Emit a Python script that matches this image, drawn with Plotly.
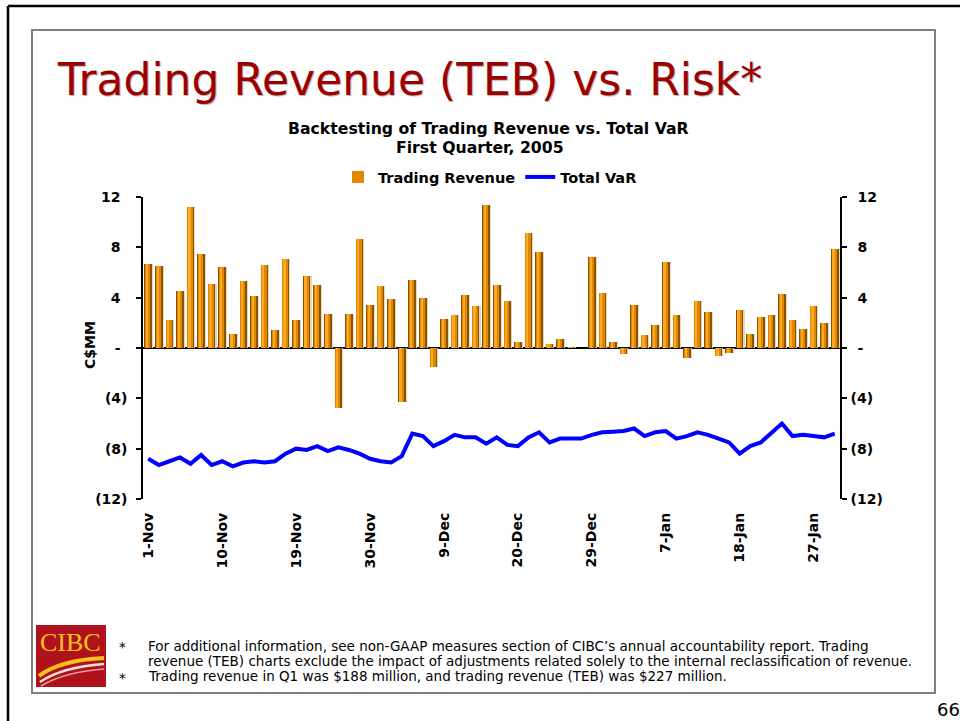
import plotly.graph_objects as go

# ---------------- data ----------------
dates = (
    ["1-Nov", "2-Nov", "3-Nov", "4-Nov", "5-Nov", "8-Nov", "9-Nov", "10-Nov", "11-Nov", "12-Nov",
     "15-Nov", "16-Nov", "17-Nov", "18-Nov", "19-Nov", "22-Nov", "23-Nov", "24-Nov", "25-Nov",
     "26-Nov", "29-Nov", "30-Nov"]
    + ["1-Dec", "2-Dec", "3-Dec", "6-Dec", "7-Dec", "8-Dec", "9-Dec", "10-Dec", "13-Dec", "14-Dec",
       "15-Dec", "16-Dec", "17-Dec", "20-Dec", "21-Dec", "22-Dec", "23-Dec", "24-Dec", "27-Dec",
       "28-Dec", "29-Dec", "30-Dec", "31-Dec"]
    + ["3-Jan", "4-Jan", "5-Jan", "6-Jan", "7-Jan", "10-Jan", "11-Jan", "12-Jan", "13-Jan", "14-Jan",
       "17-Jan", "18-Jan", "19-Jan", "20-Jan", "21-Jan", "24-Jan", "25-Jan", "26-Jan", "27-Jan",
       "28-Jan", "31-Jan"]
)

trading_revenue = [6.7, 6.5, 2.2, 4.5, 11.2, 7.5, 5.1, 6.4, 1.1, 5.3, 4.1, 6.6, 1.4, 7.1, 2.2, 5.7,
                   5.0, 2.7, -4.8, 2.7, 8.7, 3.4, 4.9, 3.9, -4.3, 5.4, 4.0, -1.5, 2.3, 2.6, 4.2, 3.3,
                   11.4, 5.0, 3.7, 0.5, 9.1, 7.6, 0.3, 0.7, 0.05, 0.0, 7.2, 4.4, 0.5, -0.5, 3.4, 1.0,
                   1.8, 6.8, 2.6, -0.8, 3.7, 2.9, -0.6, -0.4, 3.0, 1.1, 2.5, 2.6, 4.3, 2.2, 1.5, 3.3,
                   2.0, 7.9]

total_var = [-8.8, -9.3, -9.0, -8.7, -9.2, -8.5, -9.3, -9.0, -9.4, -9.1, -9.0, -9.1, -9.0, -8.4, -8.0, -8.1,
             -7.8, -8.2, -7.9, -8.1, -8.4, -8.8, -9.0, -9.1, -8.6, -6.8, -7.0, -7.8, -7.4, -6.9, -7.1, -7.1,
             -7.6, -7.1, -7.7, -7.8, -7.1, -6.7, -7.5, -7.2, -7.2, -7.2, -6.9, -6.7, -6.65, -6.6, -6.4, -7.0,
             -6.7, -6.6, -7.2, -7.0, -6.7, -6.9, -7.2, -7.5, -8.4, -7.8, -7.5, -6.8, -6.0, -7.0, -6.9, -7.0,
             -7.1, -6.8]

x_tick_labels = ["1-Nov", "10-Nov", "19-Nov", "30-Nov", "9-Dec", "20-Dec", "29-Dec", "7-Jan", "18-Jan", "27-Jan"]
y_tick_values = [12, 8, 4, 0, -4, -8, -12]
y_tick_left = ["12\u2002", "8\u2002", "4\u2002", "-\u2002", "(4)", "(8)", "(12)"]
y_tick_right = ["\u200212", "\u20028", "\u20024", "\u2002-", "(4)", "(8)", "(12)"]

# ---------------- layout geometry (pixels) ----------------
W, H = 960, 721
L, R, T, B = 143, 840, 197, 499


def px(x):
    return (x - L) / (R - L)


def py(y):
    return (B - y) / (B - T)


FONT = "DejaVu Sans"
TICK_SIZE = 14

fig = go.Figure()

# bar layers to imitate the shaded cylinder look
bar_layers = [
    dict(color="#E6D8BE", width=0.72, offset=-0.26, legend=False),  # soft shadow
    dict(color="#8A5300", width=0.72, offset=-0.36, legend=False),  # dark body
    dict(color="#E08700", width=0.50, offset=-0.30, legend=True),   # orange
    dict(color="#FFA726", width=0.22, offset=-0.22, legend=False),  # highlight
]
for lay in bar_layers:
    fig.add_trace(go.Bar(
        x=dates, y=trading_revenue, name="Trading Revenue",
        width=lay["width"], offset=lay["offset"],
        marker=dict(color=lay["color"], line=dict(width=0)),
        showlegend=lay["legend"], legendrank=1,
    ))

fig.add_trace(go.Scatter(
    x=dates, y=total_var, name="Total VaR", mode="lines",
    line=dict(color="#0000FF", width=4), yaxis="y2", legendrank=2,
))

fig.update_layout(
    width=W, height=H,
    margin=dict(l=L, r=W - R, t=T, b=H - B),
    paper_bgcolor="white", plot_bgcolor="white",
    barmode="overlay", bargap=0,
    font=dict(family=FONT, color="black"),
    showlegend=True,
    legend=dict(
        orientation="h", x=px(490), xanchor="center", y=py(177), yanchor="middle",
        font=dict(family=FONT, size=14.5, weight="bold"),
        bgcolor="rgba(0,0,0,0)", itemwidth=30, tracegroupgap=0,
    ),
    xaxis=dict(
        type="category", categoryorder="array", categoryarray=dates,
        range=[-0.5, len(dates) - 0.5],
        tickmode="array", tickvals=x_tick_labels, ticktext=x_tick_labels,
        tickangle=-90, ticks="", showline=False, showgrid=False, zeroline=False,
        ticklabelstandoff=10,
        tickfont=dict(family=FONT, size=TICK_SIZE, weight="bold", color="black"),
    ),
    yaxis=dict(
        range=[-12, 12], tickmode="array", tickvals=y_tick_values, ticktext=y_tick_left,
        showgrid=False, showline=True, linecolor="black", linewidth=1.5,
        ticks="outside", ticklen=5, tickcolor="black", tickwidth=1.5,
        zeroline=True, zerolinecolor="black", zerolinewidth=1.5,
        ticklabelstandoff=6,
        tickfont=dict(family=FONT, size=TICK_SIZE, weight="bold", color="black"),
    ),
    yaxis2=dict(
        range=[-12, 12], overlaying="y", side="right", tickmode="array",
        tickvals=y_tick_values, ticktext=y_tick_right,
        showgrid=False, showline=True, linecolor="black", linewidth=1.5,
        ticks="outside", ticklen=5, tickcolor="black", tickwidth=1.5,
        zeroline=False, ticklabelstandoff=1,
        tickfont=dict(family=FONT, size=TICK_SIZE, weight="bold", color="black"),
    ),
)

shapes = []
# outer black page frame (top and left visible)
shapes.append(dict(type="line", xref="paper", yref="paper", x0=px(8), y0=py(6), x1=px(965), y1=py(6),
                   line=dict(color="black", width=2.5)))
shapes.append(dict(type="line", xref="paper", yref="paper", x0=px(8), y0=py(6), x1=px(8), y1=py(730),
                   line=dict(color="black", width=2.5)))
# inner gray slide frame
shapes.append(dict(type="rect", xref="paper", yref="paper", x0=px(32), y0=py(30), x1=px(935), y1=py(693),
                   line=dict(color="#808080", width=2), fillcolor="rgba(0,0,0,0)", layer="below"))
# CIBC logo
shapes.append(dict(type="rect", xref="paper", yref="paper", x0=px(36), y0=py(625), x1=px(106), y1=py(687),
                   line=dict(width=0), fillcolor="#B0121C"))


def qpath(p0, c, p1):
    return "M {},{} Q {},{} {},{}".format(px(p0[0]), py(p0[1]), px(c[0]), py(c[1]), px(p1[0]), py(p1[1]))


shapes.append(dict(type="path", xref="paper", yref="paper", path=qpath((39, 676), (60, 660), (104, 658)),
                   line=dict(color="#F7C21A", width=4)))
shapes.append(dict(type="path", xref="paper", yref="paper", path=qpath((40, 682), (62, 667), (104, 664)),
                   line=dict(color="#F4E3D6", width=2.5)))
shapes.append(dict(type="path", xref="paper", yref="paper", path=qpath((41, 686), (64, 672), (104, 669)),
                   line=dict(color="#E59A9A", width=1.5)))
fig.update_layout(shapes=shapes)

FOOT = 13.5
annotations = [
    dict(text="Trading Revenue (TEB) vs. Risk*", x=px(55), y=py(80), xanchor="left", yanchor="middle",
         font=dict(family=FONT, size=44, color="#9E0000", shadow="1px 1px 1px #B0B0B0")),
    dict(text="<b>Backtesting of Trading Revenue vs. Total VaR</b>", x=px(488), y=py(128),
         xanchor="center", yanchor="middle", font=dict(family=FONT, size=15.7)),
    dict(text="<b>First Quarter, 2005</b>", x=px(480), y=py(147),
         xanchor="center", yanchor="middle", font=dict(family=FONT, size=15.7)),
    dict(text="<b>C$MM</b>", x=px(90), y=py(345), textangle=-90,
         xanchor="center", yanchor="middle", font=dict(family=FONT, size=14)),
    dict(text="CIBC", x=px(70), y=py(642), xanchor="center", yanchor="middle",
         font=dict(family="Liberation Serif", size=26, color="#F7C21A")),
    dict(text="*", x=px(122), y=py(647), xanchor="center", yanchor="middle", font=dict(family=FONT, size=FOOT)),
    dict(text="*", x=px(122), y=py(678), xanchor="center", yanchor="middle", font=dict(family=FONT, size=FOOT)),
    dict(text="For additional information, see non-GAAP measures section of CIBC\u2019s annual accountability report. Trading",
         x=px(146), y=py(646), xanchor="left", yanchor="middle", font=dict(family=FONT, size=FOOT)),
    dict(text="revenue (TEB) charts exclude the impact of adjustments related solely to the internal reclassification of revenue.",
         x=px(146), y=py(661), xanchor="left", yanchor="middle", font=dict(family=FONT, size=FOOT)),
    dict(text="Trading revenue in Q1 was $188 million, and trading revenue (TEB) was $227 million.",
         x=px(146), y=py(676), xanchor="left", yanchor="middle", font=dict(family=FONT, size=FOOT)),
    dict(text="66", x=px(935), y=py(709), xanchor="left", yanchor="middle",
         font=dict(family=FONT, size=18)),
]
for a in annotations:
    a.update(xref="paper", yref="paper", showarrow=False)
fig.update_layout(annotations=annotations)

fig.write_html("out.html", config={"displayModeBar": False},
               post_script="document.body.style.margin='0px';")
